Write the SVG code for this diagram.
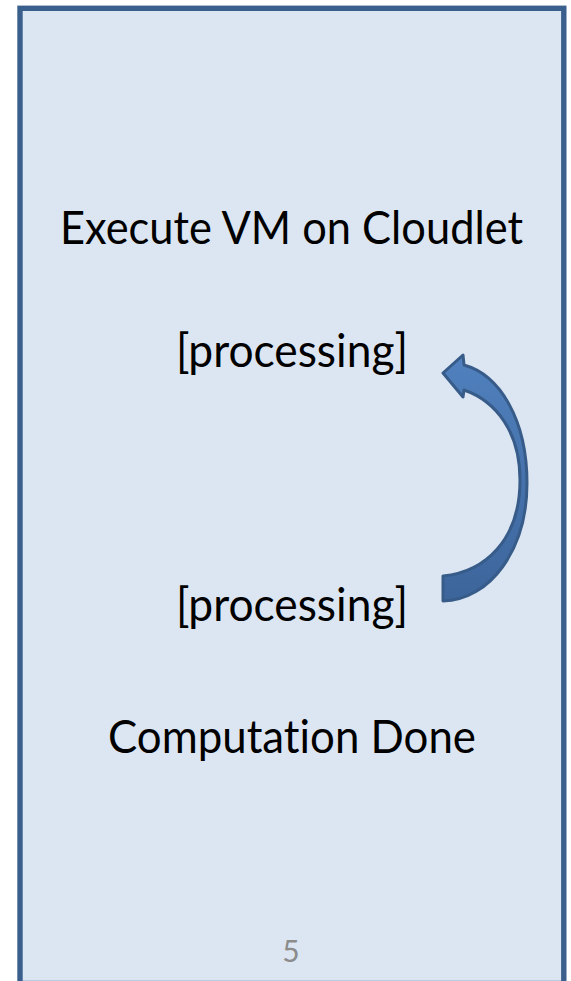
<svg xmlns="http://www.w3.org/2000/svg" width="571" height="981" viewBox="0 0 571 981">
  <style>
    .label { font-family: "Lato", "Open Sans", "Liberation Sans", sans-serif; font-size: 46px; fill: #000000; text-anchor: middle; font-variant-ligatures: none; }
    .page { font-family: "Lato", "Liberation Sans", sans-serif; font-size: 30px; fill: #8C8C8C; text-anchor: middle; }
  </style>
  <defs>
    <linearGradient id="arrowFill" x1="0" y1="0" x2="0" y2="1">
      <stop offset="0" stop-color="#5081BE"/>
      <stop offset="0.5" stop-color="#4672AC"/>
      <stop offset="1" stop-color="#3C659B"/>
    </linearGradient>
  </defs>

  <!-- white page -->
  <rect x="0" y="0" width="571" height="981" fill="#FFFFFF"/>

  <!-- framed panel -->
  <g id="panel">
    <rect x="20" y="8.3" width="543.8" height="975.2" fill="#DCE6F2" stroke="#3A5F8D" stroke-width="5.4"/>
  </g>

  <!-- text nodes -->
  <g id="execute">
    <text class="label" x="291.5" y="244" textLength="463" lengthAdjust="spacingAndGlyphs">Execute VM on Cloudlet</text>
  </g>
  <g id="processing-top">
    <text class="label" x="292" y="367" textLength="232" lengthAdjust="spacingAndGlyphs">[processing]</text>
  </g>
  <g id="processing-bottom">
    <text class="label" x="292" y="621" textLength="232" lengthAdjust="spacingAndGlyphs">[processing]</text>
  </g>
  <g id="done">
    <text class="label" x="292" y="753" textLength="368" lengthAdjust="spacingAndGlyphs">Computation Done</text>
  </g>
  <g id="page-number">
    <text class="page" x="291" y="962">5</text>
  </g>

  <!-- curved loop arrow from lower to upper processing -->
  <g id="connectors">
    <path d="M 443,373 L 463,355 L 464,365 C 500,375 527,420 527,483 C 527,550 490,600 443,601 L 443,576 C 485,572 520,540 520,480 C 520,432 496,401 464,390 L 463,397 Z"
          fill="url(#arrowFill)" stroke="#385C89" stroke-width="3" stroke-linejoin="round"/>
  </g>
</svg>
